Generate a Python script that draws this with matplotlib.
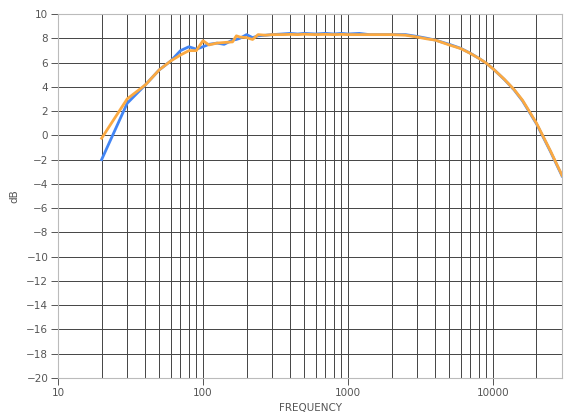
import matplotlib.pyplot as plt
from matplotlib.ticker import LogLocator, NullFormatter

freq = [20, 30, 40, 50, 60, 70, 80, 90, 100, 110, 125, 140, 160, 170, 180,
        200, 220, 240, 270, 300, 350, 400, 450, 500, 600, 700, 800, 900,
        1000, 1200, 1400, 1600, 2000, 2500, 3000, 3500, 4000, 5000, 6000,
        7000, 8000, 9000, 10000, 12000, 14000, 16000, 18000, 20000, 25000,
        30000]

blue = [-2.0, 2.64, 4.15, 5.4, 6.13, 6.98, 7.3, 7.1, 7.3, 7.5, 7.6, 7.5,
        7.85, 7.9, 8.0, 8.3, 8.05, 8.2, 8.25, 8.3, 8.35, 8.4, 8.35, 8.4,
        8.35, 8.4, 8.35, 8.4, 8.35, 8.4, 8.3, 8.3, 8.3, 8.3, 8.15, 8.0,
        7.85, 7.5, 7.17, 6.76, 6.35, 5.94, 5.5, 4.6, 3.75, 2.85, 1.85, 0.95,
        -1.35, -3.35]

orange = [-0.24, 3.0, 4.15, 5.4, 6.13, 6.62, 6.98, 6.98, 7.8, 7.45, 7.6,
          7.65, 7.7, 8.2, 8.1, 8.05, 7.9, 8.3, 8.25, 8.3, 8.3, 8.32, 8.3,
          8.33, 8.3, 8.32, 8.3, 8.32, 8.3, 8.3, 8.3, 8.3, 8.3, 8.25, 8.1,
          7.95, 7.85, 7.45, 7.15, 6.75, 6.35, 5.95, 5.5, 4.62, 3.78, 2.9,
          1.9, 1.0, -1.3, -3.3]

fig = plt.figure(figsize=(5.8, 4.2), dpi=100)
ax = fig.add_axes([0.1, 0.1, 0.869, 0.8667])

ax.plot(freq, blue, color="#4285F4", lw=2)
ax.plot(freq, orange, color="#FBA941", lw=2)

ax.set_xscale("log")
ax.set_xlim(10, 30000)
ax.set_ylim(-20, 10)
ax.set_yticks(range(-20, 11, 2))
ax.set_xticks([10, 100, 1000, 10000])
ax.set_xticklabels(["10", "100", "1000", "10000"])
ax.xaxis.set_minor_locator(LogLocator(base=10, subs=range(2, 10)))
ax.xaxis.set_minor_formatter(NullFormatter())

ax.grid(True, which="both", color="#444444", lw=0.7)
ax.set_axisbelow(True)
ax.tick_params(axis="both", which="major", labelsize=7.5, colors="#555555",
               length=5, width=0.7, pad=2)
ax.tick_params(axis="x", which="minor", length=0)
for s in ax.spines.values():
    s.set_color("#bbbbbb")

ax.set_xlabel("FREQUENCY", fontsize=7.5, color="#555555")
ax.set_ylabel("dB", fontsize=7.5, color="#555555", labelpad=5)

fig.savefig("out.png")
